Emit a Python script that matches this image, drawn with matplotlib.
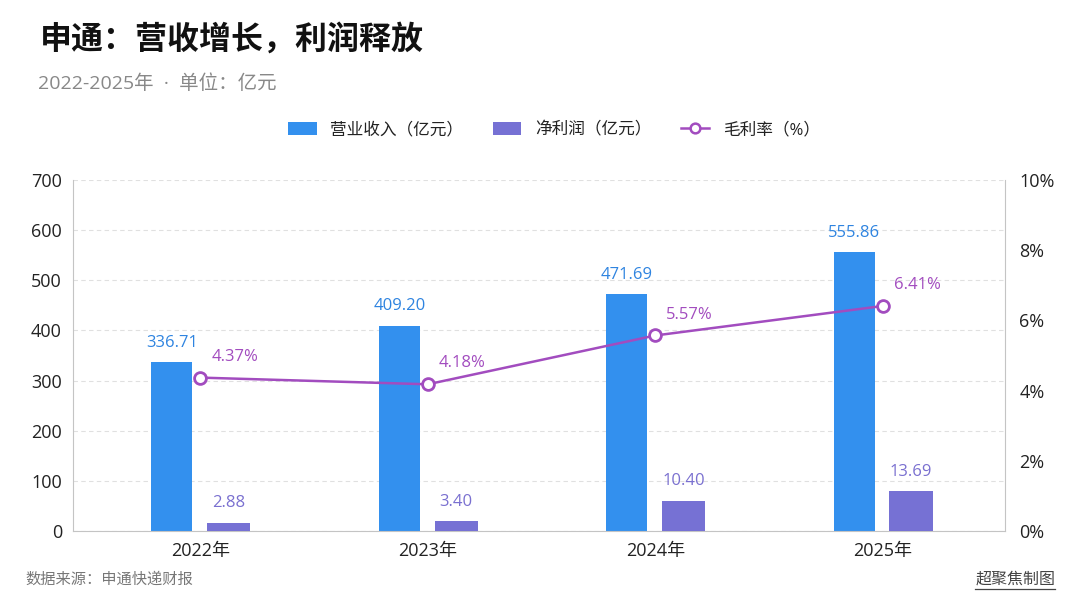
import matplotlib
matplotlib.use('Agg')
import matplotlib.pyplot as plt
import numpy as np
from matplotlib.lines import Line2D
from matplotlib.patches import Patch

# latin digits in Open Sans, chinese falls back to Noto CJK
plt.rcParams['font.family'] = ['Open Sans', 'Noto Sans CJK SC', 'DejaVu Sans']

years = ['2022年', '2023年', '2024年', '2025年']
revenue = [336.71, 409.20, 471.69, 555.86]
net_profit = [2.88, 3.40, 10.40, 13.69]
gross_margin = [4.37, 4.18, 5.57, 6.41]

c_rev = '#3390ee'
c_net = '#7671d4'
c_line = '#a24cbf'

fig = plt.figure(figsize=(10.8, 6.08), dpi=100)
ax = fig.add_axes([0.0676, 0.1266, 0.8634, 0.5774])
x = np.arange(len(years))

# revenue bars on left axis
ax.bar(x - 0.125, revenue, 0.18, color=c_rev, zorder=2)
ax.set_ylim(0, 700)
ax.set_yticks(range(0, 701, 100))
ax.set_xlim(-0.56, 3.54)
ax.set_xticks(x)
ax.set_xticklabels(years)
ax.yaxis.grid(True, linestyle=(0, (4, 3)), color='#e0e0e0', linewidth=0.8, zorder=0)
ax.set_axisbelow(True)
ax.tick_params(axis='both', length=0, labelsize=13, colors='#222222', pad=8)
for s in ['left', 'bottom', 'right']:
    ax.spines[s].set_color('#c4c4c4')
ax.spines['top'].set_visible(False)
for xi, v in zip(x, revenue):
    ax.annotate(f'{v:.2f}', (xi - 0.125, v), xytext=(0, 14), textcoords='offset points',
                ha='center', va='center', fontsize=12, color='#2f84e0')

# net profit bars, own hidden scale so they stay visible
axn = ax.twinx()
axn.bar(x + 0.125, net_profit, 0.19, color=c_net, zorder=2)
axn.set_ylim(0, 120)
axn.axis('off')
for xi, v in zip(x, net_profit):
    axn.annotate(f'{v:.2f}', (xi + 0.125, v), xytext=(0, 14), textcoords='offset points',
                 ha='center', va='center', fontsize=12, color='#7a70d0')

# gross margin line on right axis
ax2 = ax.twinx()
ax2.plot(x, gross_margin, color=c_line, lw=1.8, marker='o', ms=8.5,
         mfc='white', mec=c_line, mew=2, zorder=5)
ax2.set_ylim(0, 10)
ax2.set_yticks(range(0, 11, 2))
ax2.set_yticklabels([f'{t}%' for t in range(0, 11, 2)])
ax2.tick_params(axis='y', length=0, labelsize=13, colors='#222222', pad=10)
for s in ax2.spines.values():
    s.set_visible(False)
for xi, v in zip(x, gross_margin):
    ax2.annotate(f'{v:.2f}%', (xi, v), xytext=(8, 15), textcoords='offset points',
                 ha='left', va='center', fontsize=12, color=c_line)

# titles
fig.text(0.037, 0.934, '申通：营收增长，利润释放', fontsize=23, fontweight='bold',
         color='#111111', va='center')
fig.text(0.035, 0.862, '2022-2025年  ·  单位：亿元', fontsize=14, color='#888888', va='center')

handles = [Patch(facecolor=c_rev), Patch(facecolor=c_net),
           Line2D([0], [0], color=c_line, lw=1.8, marker='o', ms=7, mfc='white', mec=c_line, mew=1.8)]
labels = ['营业收入（亿元）', '净利润（亿元）', '毛利率（%）']
fig.legend(handles, labels, loc='center', bbox_to_anchor=(0.513, 0.786), ncol=3, frameon=False,
           fontsize=12, handlelength=1.7, handleheight=0.8, columnspacing=1.8, handletextpad=0.8,
           labelcolor='#222222')

# footer
fig.text(0.024, 0.046, '数据来源：申通快递财报', fontsize=11, color='#777777', va='center')
fig.text(0.977, 0.046, '超聚焦制图', fontsize=11.5, color='#444444', va='center', ha='right')
fig.add_artist(Line2D([0.903, 0.977], [0.032, 0.032], color='#444444', lw=0.9))

fig.savefig('out.png', dpi=100)
